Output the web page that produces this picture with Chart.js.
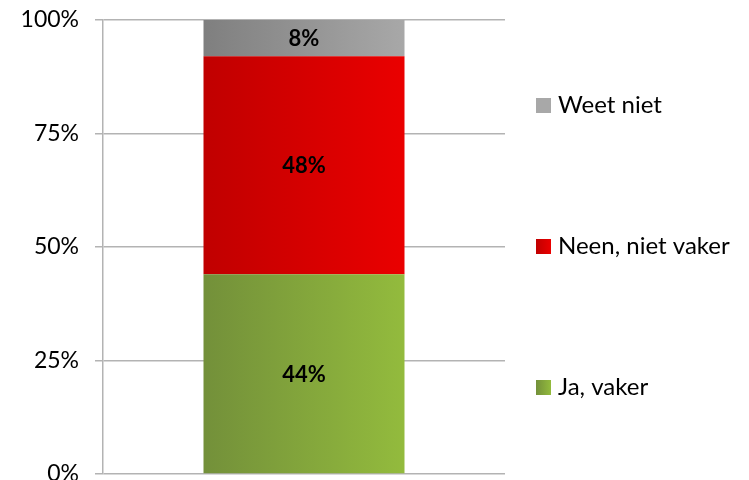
<!DOCTYPE html>
<html>
<head>
<meta charset="utf-8">
<script src="https://cdn.jsdelivr.net/npm/chart.js@4"></script>
<style>
  html, body { margin: 0; padding: 0; background: #fff; }
  #wrap { width: 749px; height: 480px; }
</style>
</head>
<body>
<div id="wrap"><canvas id="chart"></canvas></div>
<script>
const categories = [''];
const seriesNames = ['Ja, vaker', 'Neen, niet vaker', 'Weet niet'];
const jaVaker = [44];
const neenNietVaker = [48];
const weetNiet = [8];
const yTicks = [0, 25, 50, 75, 100];

// left (dark) and right (light) colours of each bar gradient
const gradientStops = [
    ['#73903a', '#93bb3d'],
    ['#c00000', '#ea0000'],
    ['#7f7f7f', '#a8a8a8'],
];

const FONT = 'Lato, "Open Sans", sans-serif';

function barGradient(chart, idx) {
    const stops = gradientStops[idx];
    const area = chart.chartArea;
    if (!area) return stops[1];
    const xs = chart.scales.x;
    const center = xs.getPixelForValue(0);
    const half = (area.right - area.left) * 0.5 / 2;
    const g = chart.ctx.createLinearGradient(center - half, 0, center + half, 0);
    g.addColorStop(0, stops[0]);
    g.addColorStop(1, stops[1]);
    return g;
}

// value labels in the middle of each segment
const valueLabels = {
    id: 'valueLabels',
    afterDatasetsDraw(chart) {
        const ctx = chart.ctx;
        ctx.save();
        ctx.font = 'bold 22px ' + FONT;
        ctx.fillStyle = '#000';
        ctx.textAlign = 'center';
        ctx.textBaseline = 'middle';
        chart.data.datasets.forEach((ds, i) => {
            chart.getDatasetMeta(i).data.forEach((bar, j) => {
                const mid = (bar.y + bar.base) / 2;
                ctx.fillText(ds.data[j] + '%', bar.x, mid + 1);
            });
        });
        ctx.restore();
    }
};

// legend on the right, top item = last series
const sideLegend = {
    id: 'sideLegend',
    afterDraw(chart) {
        const ctx = chart.ctx;
        const n = chart.data.datasets.length;
        const boxX = 536, textX = 558, gap = 141, midY = 246;
        ctx.save();
        ctx.font = '24px ' + FONT;
        ctx.textBaseline = 'middle';
        ctx.textAlign = 'left';
        for (let k = 0; k < n; k++) {
            const i = n - 1 - k;
            const y = midY + (k - 1) * gap;
            const stops = gradientStops[i];
            const g = ctx.createLinearGradient(boxX, 0, boxX + 15, 0);
            g.addColorStop(0, i === 2 ? stops[1] : stops[0]);
            g.addColorStop(1, stops[1]);
            ctx.fillStyle = g;
            ctx.fillRect(boxX, y - 7, 15, 15);
            ctx.fillStyle = '#000';
            ctx.fillText(chart.data.datasets[i].label, textX, y);
        }
        ctx.restore();
    }
};

const datasets = [jaVaker, neenNietVaker, weetNiet].map((vals, i) => ({
    label: seriesNames[i],
    data: vals,
    backgroundColor: (c) => barGradient(c.chart, i),
    borderWidth: 0,
    categoryPercentage: 1,
    barPercentage: 0.5,
}));

new Chart(document.getElementById('chart'), {
    type: 'bar',
    data: { labels: categories, datasets: datasets },
    plugins: [valueLabels, sideLegend],
    options: {
        responsive: true,
        maintainAspectRatio: false,
        animation: false,
        layout: { padding: { top: 20, bottom: 6, left: 0, right: 244 } },
        plugins: {
            legend: { display: false },
            tooltip: { enabled: false },
        },
        scales: {
            x: {
                stacked: true,
                display: false,
            },
            y: {
                stacked: true,
                min: 0,
                max: 100,
                afterBuildTicks(scale) {
                    scale.ticks = yTicks.map(v => ({ value: v }));
                },
                afterFit(scale) {
                    scale.width = 103;
                    scale.paddingTop = 0;
                    scale.paddingBottom = 0;
                },
                ticks: {
                    padding: 16,
                    color: '#000',
                    font: { family: FONT, size: 23 },
                    callback: (v) => v + '%',
                },
                grid: {
                    color: '#b3b3b3',
                    lineWidth: 1.5,
                    tickLength: 8,
                },
                border: { color: '#b3b3b3', width: 1.5 },
            }
        }
    }
});
</script>
</body>
</html>
